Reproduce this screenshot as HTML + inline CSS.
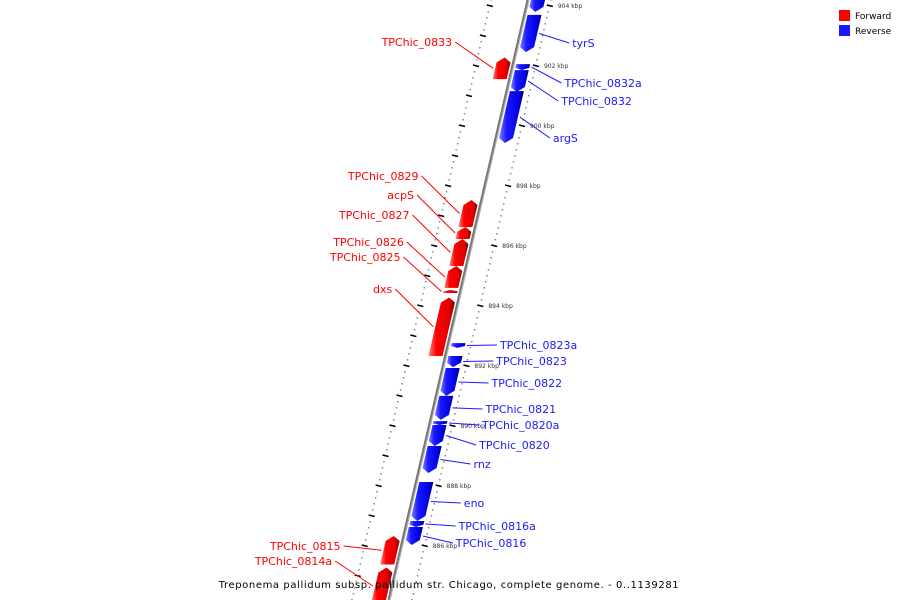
<!DOCTYPE html>
<html><head><meta charset="utf-8"><style>
body{margin:0;background:#fff;}
svg{display:block;font-family:"DejaVu Sans","Liberation Sans",sans-serif;}
</style></head><body>
<svg id="map" width="900" height="600" viewBox="0 0 900 600">
<defs>
<linearGradient id="gr" x1="0" x2="1" y1="0" y2="0"><stop offset="0" stop-color="#ff8080"/><stop offset="0.3" stop-color="#ff0000"/><stop offset="0.8" stop-color="#e00000"/><stop offset="1" stop-color="#700000"/></linearGradient>
<linearGradient id="gb" x1="0" x2="1" y1="0" y2="0"><stop offset="0" stop-color="#8080ff"/><stop offset="0.3" stop-color="#1a1aff"/><stop offset="0.8" stop-color="#0000e0"/><stop offset="1" stop-color="#000070"/></linearGradient>
</defs>
<g id="ticks"></g>
<line x1="528" y1="0" x2="389" y2="600" stroke="#777" stroke-width="3"/>
<line x1="529" y1="0" x2="390" y2="600" stroke="#bbb" stroke-width="1"/>
<g id="genes"></g>
<g>
<rect x="839" y="10" width="11" height="11" fill="#ff0000"/>
<text x="855" y="19" font-size="9" fill="#000">Forward</text>
<rect x="839" y="25" width="11" height="11" fill="#1a1aff"/>
<text x="855" y="34" font-size="9" fill="#000">Reverse</text>
</g>
<text x="449" y="588" text-anchor="middle" font-size="10" letter-spacing="0.6" fill="#000">Treponema pallidum subsp. pallidum str. Chicago, complete genome. - 0..1139281</text>
</svg>
<script>
const geneNames=["top","tyrS","TPChic_0832a","TPChic_0832","argS","TPChic_0823a","TPChic_0823","TPChic_0822","TPChic_0821","TPChic_0820a","TPChic_0820","rnz","eno","TPChic_0816a","TPChic_0816","TPChic_0833","TPChic_0829","acpS","TPChic_0827","TPChic_0826","TPChic_0825","dxs","TPChic_0815","TPChic_0814a"];
const geneStart=[904.35,903.67,902.03,901.83,901.13,892.73,892.3,891.9,890.97,890.13,890.0,889.3,888.1,886.8,886.6,902.25,897.5,896.6,896.2,895.3,894.5,894.25,886.3,885.25];
const geneEnd=[903.77,902.43,901.83,901.1,899.4,892.57,891.93,890.97,890.17,890.0,889.3,888.4,886.8,886.6,886.0,901.53,896.6,896.2,895.3,894.57,894.4,892.3,885.35,884.0];
const geneStrand=[-1,-1,-1,-1,-1,-1,-1,-1,-1,-1,-1,-1,-1,-1,-1,1,1,1,1,1,1,1,1,1];
const labelY=[null,47,87,105,142,349,365,387,413,429,449,468,507,530,547,46,180,199,219,246,261,293,550,565];
const tickLabels=["904 kbp","902 kbp","900 kbp","898 kbp","896 kbp","894 kbp","892 kbp","890 kbp","888 kbp","886 kbp"];
const tickValues=[904,902,900,898,896,894,892,890,888,886];
const NS="http://www.w3.org/2000/svg";
function yOf(k){return 5+(904-k)*30;}
function xLine(y){return 528-0.2317*y;}
function mk(tag,attrs,parent){const e=document.createElementNS(NS,tag);for(const k in attrs)e.setAttribute(k,attrs[k]);parent.appendChild(e);return e;}
const tg=document.getElementById('ticks'),gg=document.getElementById('genes');
// minor dots
for(let k=884;k<=905;k+=0.2){const y=yOf(k);if(y<-5||y>605)continue;const x=xLine(y);
 const d1=mk('rect',{x:x-38,y:y,width:1.5,height:1.5,fill:'#888'},tg);
 const d2=mk('rect',{x:x+22,y:y,width:1.5,height:1.5,fill:'#888'},tg);}
for(let k=884;k<=905;k+=1){const y=yOf(k);const x=xLine(y);
 const t=mk('line',{x1:x-40,y1:y,x2:x-34,y2:y+1.5,stroke:'#000','stroke-width':1.5},tg);}
tickValues.forEach((v,i)=>{const y=yOf(v);const x=xLine(y);
 const t=mk('line',{x1:x+20,y1:y,x2:x+26,y2:y+1.5,stroke:'#000','stroke-width':1.5},tg);
 const l=mk('text',{x:x+31,y:y+3,'font-size':6,fill:'#333'},tg);l.textContent=tickLabels[i];});
geneNames.forEach((n,i)=>{const y1=yOf(geneStart[i]),y2=yOf(geneEnd[i]);const s=geneStrand[i];
 const inner=s>0?-3:3,outer=s>0?-17:17;const h=Math.min(5,(y2-y1)*0.4);
 let pts;
 if(s>0){ // arrow points up (toward y1)
  pts=[[xLine(y2)+inner,y2],[xLine(y2)+outer,y2],[xLine(y1+h)+outer,y1+h],[xLine(y1)+(inner+outer)/2,y1],[xLine(y1+h)+inner,y1+h]];
 }else{
  pts=[[xLine(y1)+inner,y1],[xLine(y1)+outer,y1],[xLine(y2-h)+outer,y2-h],[xLine(y2)+(inner+outer)/2,y2],[xLine(y2-h)+inner,y2-h]];
 }
 const p=mk('polygon',{points:pts.map(q=>q.join(',')).join(' '),fill:s>0?'url(#gr)':'url(#gb)'},gg);
 
 
 if(labelY[i]===null)return;
 const col=s>0?'#ff0000':'#1a1aff';const ym=(y1+y2)/2;
 const gx=xLine(ym)+(s>0?-19:19);
 const lx=s>0?gx-38:gx+30;
 const ln=mk('line',{x1:gx,y1:ym,x2:lx,y2:labelY[i]-4,stroke:col,'stroke-width':1},gg);
 
 
 const t=mk('text',{x:s>0?lx-3:lx+3,y:labelY[i],'font-size':11,fill:col,'text-anchor':s>0?'end':'start'},gg);
 t.textContent=n;
 
 
});
</script>
</body></html>
